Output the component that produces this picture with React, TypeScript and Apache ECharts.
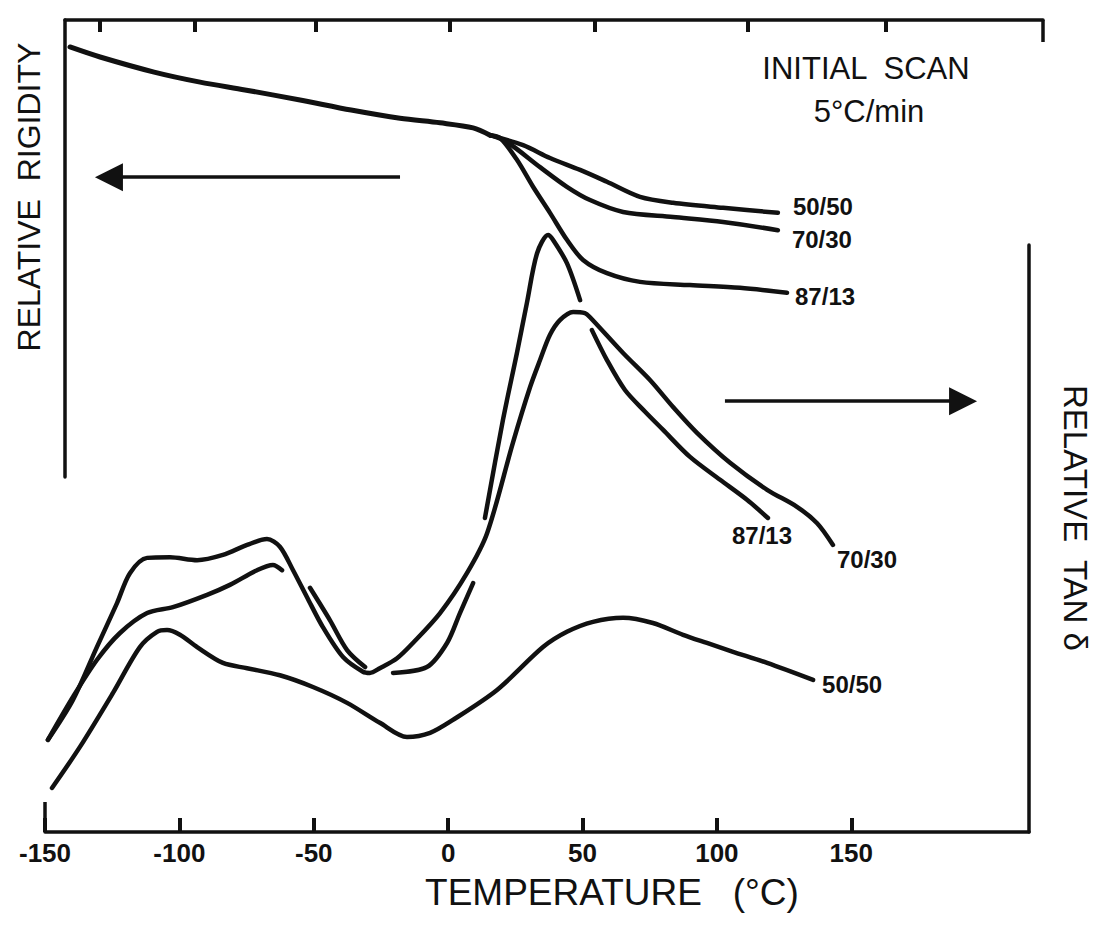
import React, { useEffect, useRef } from "react";
import * as echarts from "echarts";

// ---------- data (temperature in °C, values in relative units 0–100) ----------
const tempTicks = [-150, -100, -50, 0, 50, 100, 150];
const topTickTemps = [-129.5, -94.2, -49.2, 0.7, 54.6, 111.6, 163];

// relative rigidity: shared part of the curve, then three branches
const rigidityCommon: number[][] = [
  [-140.7, 94.1], [-129.5, 91.9], [-109.4, 88.6], [-92.3, 86.4], [-75.6, 84.7],
  [-55.1, 82.5], [-36.1, 80.3], [-17.9, 78.5], [-3, 77.5], [9.3, 76.4], [15.6, 74.8],
];
const rigidity5050: number[][] = [
  [27.9, 72.6], [37.9, 69.8], [49.1, 67.2], [59.1, 64.6], [71.4, 61.3],
  [83.7, 60.0], [102.3, 58.9], [122.7, 57.8],
];
const rigidity7030: number[][] = [
  [21.9, 73.3], [34.2, 67.8], [44.2, 63.5], [52.8, 60.6], [65.1, 58.0],
  [83.7, 56.9], [102.3, 55.8], [122.7, 54.0],
];
const rigidity8713: number[][] = [
  [19.3, 74.2], [25.6, 69.4], [31.6, 63.5], [37.9, 57.8], [44.2, 51.9],
  [50.2, 47.5], [59.1, 44.6], [71.4, 42.7], [90, 42.0], [108.6, 41.4], [126.1, 40.3],
];

// relative tan δ (null = break in the drawn line)
const tan7030: (number[] | null)[] = [
  [-148.9, 15.7], [-139.6, 22.5], [-130.7, 31.5], [-123.2, 39.0], [-118.4, 44.1],
  [-112, 46.7], [-103.5, 46.8], [-93.4, 46.3], [-83.8, 47.2], [-74.8, 48.9],
  [-67.4, 49.9], [-62.6, 48.6], [-57.7, 44.6], [-52.5, 40.0], [-46.6, 34.9],
  [-39.1, 29.8], [-31.7, 27.3], [-29.1, 27.1], [-25.4, 27.9], [-19, 29.6],
  [-13.1, 32.2], [-3, 37.3], [7, 44.1], [14.5, 50.9], [24.1, 66.3], [30.5, 75.8],
  [34.2, 80.4], [37.9, 84.7], [41.6, 87.2], [46.5, 88.6], [50.9, 88.4], [52.8, 87.7],
  [65.1, 81.6], [75.1, 77.0], [83.7, 72.4], [92.6, 68.0], [104.9, 62.9],
  [118.7, 58.3], [129.8, 55.4], [137.3, 52.6], [143.2, 48.9],
];
const tan8713: (number[] | null)[] = [
  [-148.9, 15.7], [-139.6, 23.0], [-130.7, 29.3], [-122.1, 33.9], [-112, 37.3],
  [-102.4, 38.3], [-89.7, 40.4], [-81.2, 42.1], [-71.1, 44.6], [-65.2, 45.5],
  [-61.8, 44.6], null,
  [-51.4, 41.6], [-44, 36.1], [-37.6, 31.0], [-30.9, 28.1], null,
  [-20.5, 27.1], [-7.9, 28.1], [-0.4, 32.2], [4.4, 37.3], [9.3, 42.4], null,
  [13.7, 53.5], [20.4, 70.2], [25.6, 81.6], [29.3, 90.1], [33.1, 98.6],
  [37.2, 101.7], [39, 100.9], [44.2, 96.9], [49.1, 90.6], null,
  [53.5, 85.5], [59.1, 80.4], [65.8, 75.3], [73.3, 71.6], [80, 68.5], [90, 63.9],
  [101.2, 60.0], [111.2, 56.6], [119, 53.5],
];
const tan5050: number[][] = [
  [-147.4, 7.5], [-137, 14.5], [-124.7, 23.7], [-114.7, 31.5], [-108.3, 34.1],
  [-104.6, 34.4], [-99.8, 33.6], [-93.4, 31.5], [-83.8, 28.8], [-74.8, 27.9],
  [-62.6, 26.7], [-50.3, 24.7], [-37.6, 22.0], [-25.4, 18.6], [-15.3, 16.2],
  [-6.7, 16.9], [1.8, 19.1], [18.2, 24.2], [35.3, 31.5], [44.2, 34.1],
  [53.9, 35.8], [65.1, 36.5], [76.2, 35.6], [87.4, 33.6], [96.3, 32.2],
  [106, 30.7], [118.7, 28.8], [135.8, 25.9],
];

// annotation arrows (data units)
const rigidityArrow = { from: [-17.9, 65.6], to: [-126.2, 65.6] };
const tanArrow = { from: [103, 73.4], to: [191.6, 73.4] };

// ---------- layout ----------
const INK = "#111111";
const FONT = "'Liberation Sans', Arial, Helvetica, sans-serif";
const PX_PER_DEG = 2.6875;
const gridTan = { left: 45, top: 245, width: 984, height: 587 };
const gridRig = { left: 65, top: 20, width: 978, height: 457 };
const tanMin = -150;
const tanMax = tanMin + gridTan.width / PX_PER_DEG;
const rigMin = tanMin + (gridRig.left - gridTan.left) / PX_PER_DEG;
const rigMax = rigMin + gridRig.width / PX_PER_DEG;
const capTan = 30 / (gridTan.height / 100);
const capRig = 22 / (gridRig.height / 100);

const fix = (arr: (number[] | null)[]) => arr.map((p) => (p ? p : ["-", "-"]));

const lineBase = (width = 4.5) => ({
  type: "line" as const,
  showSymbol: false,
  symbol: "none",
  smooth: 0.3,
  clip: false,
  lineStyle: { color: INK, width, cap: "round", join: "round" },
});

const endLabel = (name: string, offset: number[]) => ({
  show: true,
  formatter: name,
  color: INK,
  fontFamily: FONT,
  fontWeight: "bold",
  fontSize: 24,
  offset,
});

const seg = (a: number[], b: number[], extra: any = {}) => [{ coord: a }, { coord: b, ...extra }];

export default function App() {
  const ref = useRef<HTMLDivElement>(null);

  useEffect(() => {
    if (!ref.current) return;
    const chart = echarts.init(ref.current, null, { renderer: "svg" });
    const last = rigidityCommon[rigidityCommon.length - 1];

    const axisLine = { show: true, onZero: false, lineStyle: { color: INK, width: 3.5 } };

    const rigMarks = [
      seg([rigMax, 100], [rigMax, 100 - capRig]),
      seg(rigidityArrow.from, rigidityArrow.to, { symbol: "triangle", symbolSize: 28 }),
    ];
    const tanMarks = [
      seg([tanMin, 0], [tanMin, capTan]),
      seg(tanArrow.from, tanArrow.to, { symbol: "triangle", symbolSize: 28 }),
    ];

    chart.setOption({
      animation: false,
      grid: [gridRig, gridTan],
      xAxis: [
        {
          type: "value",
          gridIndex: 0,
          position: "top",
          min: rigMin,
          max: rigMax,
          axisLine,
          axisTick: {
            show: true,
            inside: true,
            length: 12,
            customValues: topTickTemps,
            lineStyle: { color: INK, width: 4 },
          },
          axisLabel: { show: false },
          splitLine: { show: false },
        },
        {
          type: "value",
          gridIndex: 1,
          position: "bottom",
          min: tanMin,
          max: tanMax,
          axisLine,
          axisTick: {
            show: true,
            inside: true,
            length: 14,
            customValues: tempTicks,
            lineStyle: { color: INK, width: 4 },
          },
          axisLabel: {
            show: true,
            customValues: tempTicks,
            margin: 8,
            color: INK,
            fontFamily: FONT,
            fontWeight: "bold",
            fontSize: 26,
          },
          splitLine: { show: false },
        },
      ],
      yAxis: [
        {
          type: "value",
          gridIndex: 0,
          position: "left",
          min: 0,
          max: 100,
          axisLine,
          axisTick: { show: false },
          axisLabel: { show: false },
          splitLine: { show: false },
        },
        {
          type: "value",
          gridIndex: 1,
          position: "right",
          min: 0,
          max: 100,
          axisLine,
          axisTick: { show: false },
          axisLabel: { show: false },
          splitLine: { show: false },
        },
      ],
      series: [
        {
          ...lineBase(5),
          name: "rigidity",
          xAxisIndex: 0,
          yAxisIndex: 0,
          data: rigidityCommon,
          markLine: {
            symbol: ["none", "none"],
            label: { show: false },
            lineStyle: { color: INK, width: 3.5, type: "solid" },
            data: rigMarks,
          },
        },
        {
          ...lineBase(),
          name: "50/50",
          xAxisIndex: 0,
          yAxisIndex: 0,
          data: [last, ...rigidity5050],
          endLabel: endLabel("50/50", [7, -6]),
        },
        {
          ...lineBase(),
          name: "70/30",
          xAxisIndex: 0,
          yAxisIndex: 0,
          data: [last, ...rigidity7030],
          endLabel: endLabel("70/30", [6, 9]),
        },
        {
          ...lineBase(),
          name: "87/13",
          xAxisIndex: 0,
          yAxisIndex: 0,
          data: [last, ...rigidity8713],
          endLabel: endLabel("87/13", [0, 4]),
        },
        {
          ...lineBase(),
          name: "tan 70/30",
          xAxisIndex: 1,
          yAxisIndex: 1,
          data: fix(tan7030),
          endLabel: endLabel("70/30", [-4, 15]),
        },
        {
          ...lineBase(),
          name: "tan 87/13",
          xAxisIndex: 1,
          yAxisIndex: 1,
          data: fix(tan8713),
          connectNulls: false,
          endLabel: endLabel("87/13", [-44, 18]),
        },
        {
          ...lineBase(),
          name: "tan 50/50",
          xAxisIndex: 1,
          yAxisIndex: 1,
          data: tan5050,
          endLabel: endLabel("50/50", [1, 5]),
          markLine: {
            symbol: ["none", "none"],
            label: { show: false },
            lineStyle: { color: INK, width: 3.5, type: "solid" },
            data: tanMarks,
          },
        },
      ],
      graphic: [
        {
          type: "text",
          x: 29,
          y: 197,
          rotation: Math.PI / 2,
          style: {
            text: "RELATIVE  RIGIDITY",
            fill: INK,
            font: `32px ${FONT}`,
            align: "center",
            verticalAlign: "middle",
          },
        },
        {
          type: "text",
          x: 1075,
          y: 518,
          rotation: -Math.PI / 2,
          style: {
            text: "RELATIVE  TAN δ",
            fill: INK,
            font: `33px ${FONT}`,
            align: "center",
            verticalAlign: "middle",
          },
        },
        {
          type: "text",
          x: 866,
          y: 68,
          style: {
            text: "INITIAL  SCAN",
            fill: INK,
            font: `31px ${FONT}`,
            align: "center",
            verticalAlign: "middle",
          },
        },
        {
          type: "text",
          x: 869,
          y: 111,
          style: {
            text: "5°C/min",
            fill: INK,
            font: `31px ${FONT}`,
            align: "center",
            verticalAlign: "middle",
          },
        },
        {
          type: "text",
          x: 612,
          y: 892,
          style: {
            text: "TEMPERATURE   (°C)",
            fill: INK,
            font: `37px ${FONT}`,
            align: "center",
            verticalAlign: "middle",
          },
        },
      ],
    });

    return () => chart.dispose();
  }, []);

  return (
    <div
      ref={ref}
      style={{ position: "fixed", left: 0, top: 0, width: 1098, height: 926, background: "#fff" }}
    />
  );
}
